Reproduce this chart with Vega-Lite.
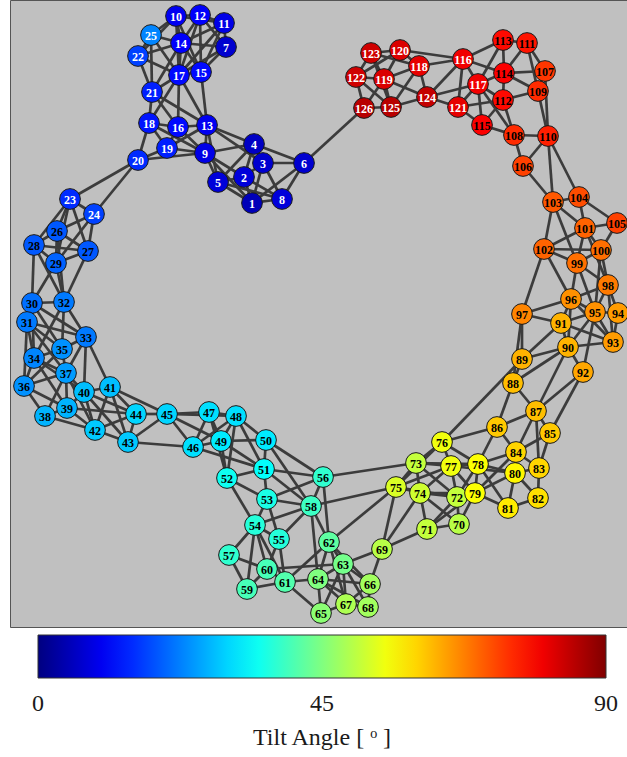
{
"$schema":"https://vega.github.io/schema/vega-lite/v6.json",
"width":617,"height":627,
"autosize":{"type":"none"},
"padding":{"left":10,"top":0,"right":0,"bottom":130},
"background":"white",
"config":{"view":{"fill":"#c0c0c0","stroke":"#555555","strokeWidth":1}},
"datasets":{
"nodes":[
{"id":1,"x":252,"y":203,"a":5},{"id":2,"x":244,"y":177,"a":8},{"id":3,"x":263,"y":163,"a":7},{"id":4,"x":254,"y":144,"a":6},{"id":5,"x":218,"y":182,"a":8},{"id":6,"x":304,"y":163,"a":7},{"id":7,"x":226,"y":47,"a":7},{"id":8,"x":282,"y":199,"a":8},{"id":9,"x":205,"y":153,"a":9},{"id":10,"x":176,"y":16,"a":10},
{"id":11,"x":224,"y":23,"a":9},{"id":12,"x":200,"y":15,"a":11},{"id":13,"x":207,"y":125,"a":10},{"id":14,"x":181,"y":43,"a":11},{"id":15,"x":201,"y":72,"a":12},{"id":16,"x":178,"y":127,"a":12},{"id":17,"x":179,"y":75,"a":12},{"id":18,"x":149,"y":123,"a":13},{"id":19,"x":167,"y":148,"a":14},{"id":20,"x":138,"y":160,"a":15},
{"id":21,"x":152,"y":92,"a":14},{"id":22,"x":138,"y":56,"a":17},{"id":23,"x":70,"y":199,"a":15},{"id":24,"x":94,"y":214,"a":17},{"id":25,"x":151,"y":35,"a":23},{"id":26,"x":57,"y":231,"a":19},{"id":27,"x":88,"y":251,"a":19},{"id":28,"x":34,"y":245,"a":19},{"id":29,"x":56,"y":263,"a":20},{"id":30,"x":32,"y":303,"a":21},
{"id":31,"x":27,"y":322,"a":22},{"id":32,"x":64,"y":302,"a":22},{"id":33,"x":86,"y":337,"a":22},{"id":34,"x":34,"y":358,"a":23},{"id":35,"x":62,"y":349,"a":24},{"id":36,"x":24,"y":386,"a":24},{"id":37,"x":66,"y":373,"a":25},{"id":38,"x":45,"y":416,"a":27},{"id":39,"x":67,"y":408,"a":27},{"id":40,"x":84,"y":392,"a":28},
{"id":41,"x":110,"y":387,"a":28},{"id":42,"x":95,"y":430,"a":29},{"id":43,"x":128,"y":442,"a":29},{"id":44,"x":136,"y":414,"a":30},{"id":45,"x":167,"y":414,"a":30},{"id":46,"x":193,"y":447,"a":31},{"id":47,"x":209,"y":412,"a":31},{"id":48,"x":236,"y":416,"a":31},{"id":49,"x":221,"y":441,"a":32},{"id":50,"x":266,"y":440,"a":32},
{"id":51,"x":264,"y":469,"a":34},{"id":52,"x":227,"y":478,"a":35},{"id":53,"x":267,"y":499,"a":36},{"id":54,"x":255,"y":525,"a":37},{"id":55,"x":279,"y":539,"a":37},{"id":56,"x":323,"y":477,"a":38},{"id":57,"x":229,"y":555,"a":38},{"id":58,"x":311,"y":506,"a":39},{"id":59,"x":247,"y":589,"a":40},{"id":60,"x":267,"y":569,"a":40},
{"id":61,"x":285,"y":582,"a":41},{"id":62,"x":329,"y":542,"a":42},{"id":63,"x":343,"y":564,"a":44},{"id":64,"x":318,"y":579,"a":45},{"id":65,"x":321,"y":613,"a":46},{"id":66,"x":370,"y":584,"a":48},{"id":67,"x":346,"y":604,"a":49},{"id":68,"x":368,"y":607,"a":48},{"id":69,"x":382,"y":549,"a":50},{"id":70,"x":459,"y":524,"a":50},
{"id":71,"x":427,"y":529,"a":51},{"id":72,"x":457,"y":497,"a":51},{"id":73,"x":416,"y":463,"a":51},{"id":74,"x":420,"y":493,"a":52},{"id":75,"x":396,"y":487,"a":53},{"id":76,"x":442,"y":442,"a":55},{"id":77,"x":451,"y":466,"a":55},{"id":78,"x":478,"y":464,"a":56},{"id":79,"x":475,"y":493,"a":56},{"id":80,"x":515,"y":473,"a":57},
{"id":81,"x":508,"y":508,"a":58},{"id":82,"x":538,"y":498,"a":59},{"id":83,"x":539,"y":468,"a":60},{"id":84,"x":516,"y":452,"a":60},{"id":85,"x":550,"y":433,"a":61},{"id":86,"x":497,"y":427,"a":61},{"id":87,"x":536,"y":411,"a":62},{"id":88,"x":513,"y":383,"a":62},{"id":89,"x":522,"y":359,"a":63},{"id":90,"x":568,"y":347,"a":63},
{"id":91,"x":561,"y":323,"a":63},{"id":92,"x":583,"y":372,"a":64},{"id":93,"x":613,"y":342,"a":65},{"id":94,"x":618,"y":313,"a":65},{"id":95,"x":595,"y":312,"a":66},{"id":96,"x":571,"y":299,"a":66},{"id":97,"x":522,"y":314,"a":67},{"id":98,"x":608,"y":285,"a":68},{"id":99,"x":577,"y":263,"a":69},{"id":100,"x":601,"y":250,"a":69},
{"id":101,"x":585,"y":228,"a":70},{"id":102,"x":544,"y":249,"a":70},{"id":103,"x":553,"y":202,"a":71},{"id":104,"x":579,"y":197,"a":72},{"id":105,"x":617,"y":223,"a":73},{"id":106,"x":523,"y":166,"a":73},{"id":107,"x":545,"y":71,"a":74},{"id":108,"x":514,"y":135,"a":75},{"id":109,"x":538,"y":91,"a":75},{"id":110,"x":548,"y":136,"a":76},
{"id":111,"x":527,"y":43,"a":77},{"id":112,"x":503,"y":100,"a":78},{"id":113,"x":503,"y":40,"a":78},{"id":114,"x":504,"y":73,"a":79},{"id":115,"x":482,"y":125,"a":79},{"id":116,"x":463,"y":59,"a":80},{"id":117,"x":478,"y":84,"a":80},{"id":118,"x":419,"y":66,"a":81},{"id":119,"x":384,"y":79,"a":82},{"id":120,"x":400,"y":50,"a":82},
{"id":121,"x":458,"y":107,"a":81},{"id":122,"x":356,"y":77,"a":83},{"id":123,"x":371,"y":53,"a":83},{"id":124,"x":427,"y":97,"a":84},{"id":125,"x":391,"y":107,"a":85},{"id":126,"x":364,"y":108,"a":85}
],
"edges":[
{"s":1,"t":2},{"s":1,"t":3},{"s":1,"t":5},{"s":1,"t":8},{"s":1,"t":9},{"s":1,"t":6},
{"s":2,"t":3},{"s":2,"t":4},{"s":2,"t":5},{"s":2,"t":8},{"s":2,"t":9},
{"s":3,"t":4},{"s":3,"t":6},{"s":3,"t":8},{"s":3,"t":13},
{"s":4,"t":6},{"s":4,"t":9},{"s":4,"t":13},{"s":4,"t":5},
{"s":5,"t":9},{"s":5,"t":13},{"s":5,"t":8},{"s":6,"t":8},
{"s":9,"t":13},{"s":9,"t":16},{"s":9,"t":19},{"s":9,"t":20},{"s":9,"t":18},
{"s":13,"t":15},{"s":13,"t":16},{"s":13,"t":17},{"s":13,"t":21},{"s":13,"t":19},
{"s":16,"t":17},{"s":16,"t":18},{"s":16,"t":19},{"s":16,"t":21},
{"s":18,"t":19},{"s":18,"t":20},{"s":18,"t":21},{"s":18,"t":17},{"s":19,"t":20},
{"s":20,"t":23},{"s":20,"t":24},
{"s":21,"t":22},{"s":21,"t":17},{"s":21,"t":25},{"s":21,"t":14},
{"s":17,"t":14},{"s":17,"t":15},{"s":17,"t":10},{"s":17,"t":12},{"s":17,"t":7},{"s":17,"t":22},{"s":17,"t":25},{"s":17,"t":11},
{"s":14,"t":10},{"s":14,"t":12},{"s":14,"t":11},{"s":14,"t":7},{"s":14,"t":25},{"s":14,"t":22},{"s":14,"t":15},
{"s":15,"t":7},{"s":15,"t":11},{"s":15,"t":12},{"s":15,"t":10},
{"s":10,"t":12},{"s":10,"t":25},{"s":10,"t":22},{"s":10,"t":11},{"s":12,"t":11},{"s":12,"t":7},{"s":11,"t":7},{"s":25,"t":22},
{"s":6,"t":126},
{"s":23,"t":24},{"s":23,"t":26},{"s":23,"t":28},{"s":23,"t":29},{"s":23,"t":27},
{"s":24,"t":27},{"s":24,"t":26},{"s":24,"t":29},
{"s":26,"t":28},{"s":26,"t":29},{"s":26,"t":27},{"s":26,"t":32},
{"s":28,"t":29},{"s":28,"t":27},{"s":28,"t":30},{"s":28,"t":32},
{"s":29,"t":27},{"s":29,"t":30},{"s":29,"t":32},{"s":27,"t":32},
{"s":30,"t":32},{"s":30,"t":31},{"s":30,"t":33},{"s":30,"t":35},{"s":30,"t":34},
{"s":31,"t":34},{"s":31,"t":35},{"s":31,"t":33},{"s":31,"t":36},{"s":31,"t":37},
{"s":32,"t":33},{"s":32,"t":35},{"s":32,"t":34},
{"s":33,"t":35},{"s":33,"t":37},{"s":33,"t":41},{"s":33,"t":40},
{"s":34,"t":35},{"s":34,"t":36},{"s":34,"t":37},{"s":34,"t":39},{"s":34,"t":40},
{"s":35,"t":37},{"s":35,"t":36},
{"s":36,"t":38},{"s":36,"t":37},{"s":36,"t":39},
{"s":37,"t":40},{"s":37,"t":39},{"s":37,"t":42},{"s":37,"t":38},
{"s":38,"t":39},{"s":38,"t":42},
{"s":39,"t":40},{"s":39,"t":42},{"s":39,"t":44},
{"s":40,"t":41},{"s":40,"t":42},{"s":40,"t":44},{"s":40,"t":43},
{"s":41,"t":44},{"s":41,"t":42},{"s":41,"t":43},{"s":41,"t":45},
{"s":42,"t":43},{"s":42,"t":44},
{"s":43,"t":44},{"s":43,"t":45},{"s":43,"t":46},{"s":44,"t":45},
{"s":45,"t":47},{"s":45,"t":46},{"s":45,"t":48},{"s":45,"t":49},
{"s":46,"t":47},{"s":46,"t":49},{"s":46,"t":48},{"s":46,"t":51},
{"s":47,"t":48},{"s":47,"t":49},{"s":47,"t":52},
{"s":48,"t":49},{"s":48,"t":50},{"s":48,"t":51},{"s":48,"t":52},
{"s":49,"t":50},{"s":49,"t":51},{"s":49,"t":52},
{"s":50,"t":51},{"s":50,"t":56},{"s":50,"t":58},
{"s":51,"t":52},{"s":51,"t":53},{"s":51,"t":56},{"s":51,"t":58},
{"s":52,"t":53},{"s":52,"t":54},
{"s":53,"t":54},{"s":53,"t":56},{"s":53,"t":58},{"s":53,"t":55},
{"s":54,"t":55},{"s":54,"t":57},{"s":54,"t":58},{"s":54,"t":60},{"s":54,"t":61},{"s":54,"t":59},
{"s":55,"t":58},{"s":55,"t":60},{"s":55,"t":61},
{"s":56,"t":58},{"s":56,"t":73},{"s":56,"t":62},
{"s":57,"t":60},{"s":57,"t":59},{"s":59,"t":60},{"s":59,"t":61},
{"s":60,"t":61},{"s":60,"t":63},
{"s":61,"t":64},{"s":61,"t":65},{"s":61,"t":62},
{"s":58,"t":62},{"s":58,"t":64},{"s":58,"t":75},
{"s":62,"t":63},{"s":62,"t":64},{"s":62,"t":67},{"s":62,"t":66},{"s":62,"t":75},
{"s":63,"t":64},{"s":63,"t":66},{"s":63,"t":67},{"s":63,"t":68},{"s":63,"t":65},{"s":63,"t":69},
{"s":64,"t":65},{"s":64,"t":67},{"s":64,"t":66},{"s":64,"t":68},
{"s":65,"t":67},{"s":66,"t":67},{"s":66,"t":68},{"s":66,"t":69},{"s":67,"t":68},
{"s":69,"t":71},{"s":69,"t":74},{"s":69,"t":75},
{"s":70,"t":71},{"s":70,"t":72},{"s":70,"t":79},{"s":70,"t":74},
{"s":71,"t":72},{"s":71,"t":74},{"s":71,"t":79},
{"s":72,"t":74},{"s":72,"t":79},{"s":72,"t":73},{"s":72,"t":77},{"s":72,"t":78},{"s":72,"t":75},
{"s":73,"t":74},{"s":73,"t":75},{"s":73,"t":76},{"s":73,"t":77},{"s":73,"t":78},
{"s":74,"t":75},{"s":74,"t":77},{"s":74,"t":79},
{"s":75,"t":76},{"s":75,"t":77},
{"s":76,"t":77},{"s":76,"t":78},{"s":76,"t":86},{"s":76,"t":89},
{"s":77,"t":78},{"s":77,"t":79},{"s":77,"t":80},
{"s":78,"t":79},{"s":78,"t":80},{"s":78,"t":84},{"s":78,"t":81},{"s":78,"t":86},
{"s":79,"t":80},{"s":79,"t":81},{"s":79,"t":84},
{"s":80,"t":81},{"s":80,"t":82},{"s":80,"t":83},{"s":80,"t":84},
{"s":81,"t":82},{"s":82,"t":83},
{"s":83,"t":84},{"s":83,"t":85},{"s":83,"t":87},
{"s":84,"t":85},{"s":84,"t":86},{"s":84,"t":87},
{"s":85,"t":87},{"s":85,"t":92},
{"s":86,"t":87},{"s":86,"t":88},
{"s":87,"t":88},{"s":87,"t":90},{"s":87,"t":92},
{"s":88,"t":89},{"s":88,"t":97},{"s":88,"t":90},
{"s":89,"t":90},{"s":89,"t":91},{"s":89,"t":97},
{"s":90,"t":91},{"s":90,"t":92},{"s":90,"t":93},{"s":90,"t":95},{"s":90,"t":96},
{"s":91,"t":96},{"s":91,"t":95},{"s":91,"t":97},{"s":91,"t":93},
{"s":92,"t":95},
{"s":93,"t":94},{"s":93,"t":95},{"s":93,"t":96},{"s":93,"t":98},
{"s":94,"t":95},{"s":94,"t":98},
{"s":95,"t":96},{"s":95,"t":98},{"s":95,"t":99},{"s":95,"t":100},
{"s":96,"t":97},{"s":96,"t":98},{"s":96,"t":99},{"s":96,"t":102},
{"s":97,"t":102},
{"s":98,"t":99},{"s":98,"t":100},{"s":98,"t":101},
{"s":99,"t":100},{"s":99,"t":101},{"s":99,"t":102},{"s":99,"t":103},
{"s":100,"t":101},{"s":100,"t":105},{"s":100,"t":102},
{"s":101,"t":102},{"s":101,"t":103},{"s":101,"t":104},{"s":101,"t":105},
{"s":102,"t":103},
{"s":103,"t":104},{"s":103,"t":106},{"s":103,"t":110},
{"s":104,"t":105},{"s":104,"t":110},
{"s":106,"t":108},{"s":106,"t":110},
{"s":108,"t":110},{"s":108,"t":115},{"s":108,"t":112},{"s":108,"t":117},
{"s":110,"t":109},{"s":110,"t":107},
{"s":107,"t":109},{"s":107,"t":111},{"s":107,"t":114},
{"s":109,"t":111},{"s":109,"t":112},{"s":109,"t":114},
{"s":111,"t":113},{"s":111,"t":114},
{"s":112,"t":114},{"s":112,"t":115},{"s":112,"t":117},{"s":112,"t":121},
{"s":113,"t":114},{"s":113,"t":116},{"s":113,"t":117},
{"s":114,"t":116},{"s":114,"t":117},
{"s":115,"t":117},{"s":115,"t":121},
{"s":116,"t":117},{"s":116,"t":118},{"s":116,"t":120},{"s":116,"t":121},{"s":116,"t":124},
{"s":117,"t":121},{"s":117,"t":124},
{"s":118,"t":119},{"s":118,"t":120},{"s":118,"t":124},{"s":118,"t":123},{"s":118,"t":125},
{"s":119,"t":120},{"s":119,"t":122},{"s":119,"t":123},{"s":119,"t":124},{"s":119,"t":125},{"s":119,"t":126},
{"s":120,"t":123},{"s":120,"t":122},
{"s":121,"t":124},
{"s":122,"t":123},{"s":122,"t":126},{"s":122,"t":125},
{"s":123,"t":125},{"s":124,"t":125},{"s":125,"t":126}
]
},
"layer":[
{
"data":{"name":"edges"},
"transform":[
{"lookup":"s","from":{"data":{"name":"nodes"},"key":"id","fields":["x","y"]},"as":["sx","sy"]},
{"lookup":"t","from":{"data":{"name":"nodes"},"key":"id","fields":["x","y"]},"as":["tx","ty"]}
],
"mark":{"type":"rule","color":"#3c3c3c","strokeWidth":2.7},
"encoding":{
"x":{"field":"sx","type":"quantitative","scale":{"domain":[10,627]},"axis":null},
"y":{"field":"sy","type":"quantitative","scale":{"domain":[0,627],"reverse":true},"axis":null},
"x2":{"field":"tx"},
"y2":{"field":"ty"}
}
},
{
"data":{"name":"nodes"},
"mark":{"type":"circle","size":430,"opacity":1,"stroke":"#1a1a1a","strokeWidth":1},
"encoding":{
"x":{"field":"x","type":"quantitative","scale":{"domain":[10,627]},"axis":null},
"y":{"field":"y","type":"quantitative","scale":{"domain":[0,627],"reverse":true},"axis":null},
"color":{"field":"a","type":"quantitative",
"scale":{"domain":[0,11.25,33.75,56.25,78.75,90],"range":["#000080","#0000ff","#00ffff","#ffff00","#ff0000","#800000"],"interpolate":"rgb"},
"legend":{"orient":"none","legendX":28,"legendY":635,"direction":"horizontal","gradientLength":568,"gradientThickness":43,
"values":[0.0001,45,89.9999],"labelExpr":"format(datum.value, '.0f')","padding":0,"labelFont":"Liberation Serif","labelFontSize":24,"labelColor":"#1a1a1a","labelOffset":14,
"title":"Tilt Angle [ ᵒ ]","titleOrient":"bottom","titleAnchor":"middle","titleFont":"Liberation Serif","titleFontSize":24,"titleFontWeight":"normal","titleColor":"#1a1a1a","titlePadding":10,
"gradientStrokeColor":"#333333","gradientStrokeWidth":1}}
}
},
{
"data":{"name":"nodes"},
"mark":{"type":"text","font":"Liberation Serif","fontSize":12,"fontWeight":"bold","baseline":"middle","align":"center","dy":1},
"encoding":{
"x":{"field":"x","type":"quantitative","scale":{"domain":[10,627]},"axis":null},
"y":{"field":"y","type":"quantitative","scale":{"domain":[0,627],"reverse":true},"axis":null},
"text":{"field":"id","type":"nominal"},
"color":{"condition":{"test":"datum.id <= 25 || datum.id >= 116","value":"#ffffff"},"value":"#000000"}
}
}
]
}
